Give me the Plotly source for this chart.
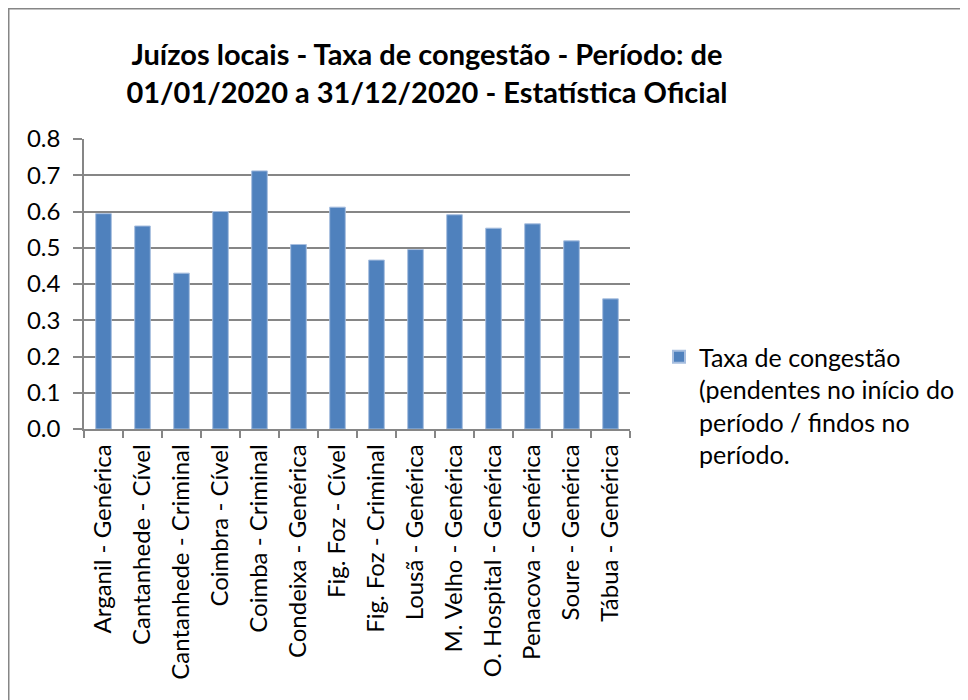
import plotly.graph_objects as go

categories = [
    "Arganil - Genérica", "Cantanhede - Cível", "Cantanhede - Criminal",
    "Coimbra - Cível", "Coimba - Criminal", "Condeixa - Genérica",
    "Fig. Foz - Cível", "Fig. Foz - Criminal", "Lousã - Genérica",
    "M. Velho - Genérica", "O. Hospital - Genérica", "Penacova - Genérica",
    "Soure - Genérica", "Tábua - Genérica",
]
taxa_congestao = [0.594, 0.560, 0.430, 0.600, 0.712, 0.509, 0.612,
                  0.466, 0.495, 0.591, 0.554, 0.566, 0.519, 0.359]
series_name = "Taxa de congestão<br>(pendentes no início do<br>período / findos no<br>período."
y_ticks = [0.0, 0.1, 0.2, 0.3, 0.4, 0.5, 0.6, 0.7, 0.8]
y_tick_labels = ["0.0", "0.1", "0.2", "0.3", "0.4", "0.5", "0.6", "0.7", "0.8"]
title_text = ("<b>Juízos locais - Taxa de congestão - Período: de<br>"
              "01/01/2020 a 31/12/2020 - Estatística Oficial</b>")

FONT = "Lato, 'Liberation Sans', sans-serif"
GRID = "#868686"

fig = go.Figure()
fig.add_trace(go.Bar(
    x=categories, y=taxa_congestao, name=series_name,
    marker=dict(color="#4F81BD", line=dict(color="#A7BEDF", width=1)),
    showlegend=True,
))

# page body has an 8px margin, figure starts at page (8, 8); the chart frame
# continues past the right and bottom window edges, as in the reference
W, H = 980, 712
L, R, T, B = 76, 358, 131, 291
pw, ph = W - L - R, H - T - B

def px_x(p):
    return (p - L) / pw

def px_y(p):
    return (H - B - p) / ph

border = dict(color="#868686", width=1.5)
fig.update_layout(
    width=W, height=H,
    margin=dict(l=L, r=R, t=T, b=B, autoexpand=False),
    paper_bgcolor="white", plot_bgcolor="white",
    font=dict(family=FONT, size=24, color="black"),
    bargap=0.6,
    title=dict(text=title_text, x=419 / W, xanchor="center", xref="container",
               y=1 - 57 / H, yanchor="middle", yref="container",
               font=dict(family=FONT, size=29, color="black")),
    legend=dict(x=px_x(651), xanchor="left", y=px_y(326),
                yanchor="top", valign="top",
                font=dict(family=FONT, size=25, color="black"),
                bgcolor="rgba(0,0,0,0)", itemsizing="constant"),
    shapes=[
        dict(type="line", xref="paper", yref="paper",
             x0=px_x(0.75), x1=px_x(0.75), y0=px_y(0), y1=px_y(H), line=border),
        dict(type="line", xref="paper", yref="paper",
             x0=px_x(0), x1=px_x(W), y0=px_y(0.75), y1=px_y(0.75), line=border),
    ],
)
fig.update_xaxes(
    tickangle=-90, ticks="outside", tickson="boundaries", ticklen=7,
    tickcolor=GRID, tickwidth=1.5, showline=True, linecolor=GRID, linewidth=1.5,
    showgrid=False, tickfont=dict(family=FONT, size=24, color="black"),
    ticklabelstandoff=4,
)
fig.update_yaxes(
    range=[0, 0.8], tickvals=y_ticks, ticktext=y_tick_labels,
    ticks="outside", ticklen=9, tickcolor=GRID, tickwidth=1.5,
    showline=True, linecolor=GRID, linewidth=1.5,
    showgrid=True, gridcolor=GRID, gridwidth=1.5, zeroline=False,
    tickfont=dict(family=FONT, size=24, color="black"),
    ticklabelstandoff=8,
)

fig.write_html(
    "out.html",
    post_script="document.documentElement.style.overflow='hidden';"
                "document.body.style.overflow='hidden';",
)
